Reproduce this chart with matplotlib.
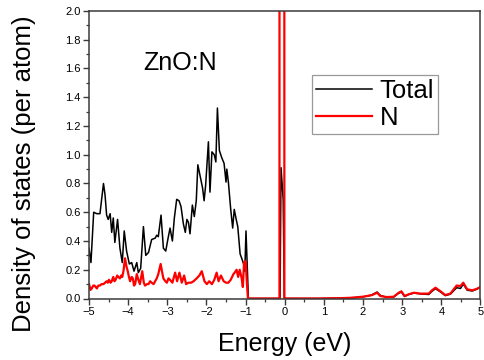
import matplotlib
matplotlib.use("Agg")
import matplotlib.pyplot as plt
from matplotlib.ticker import MultipleLocator

plt.rcParams['font.family'] = ['Liberation Sans', 'DejaVu Sans']

# Total DOS (black)
energy_total = [-5.00, -4.95, -4.88, -4.80, -4.72, -4.63, -4.59, -4.55, -4.51, -4.46,
                -4.42, -4.38, -4.34, -4.27, -4.21, -4.15, -4.10, -4.04, -3.97, -3.91,
                -3.85, -3.78, -3.74, -3.68, -3.61, -3.55, -3.48, -3.40, -3.31, -3.27,
                -3.23, -3.16, -3.10, -3.04, -2.98, -2.93, -2.87, -2.82, -2.76, -2.70,
                -2.65, -2.59, -2.54, -2.50, -2.46, -2.42, -2.36, -2.31, -2.26, -2.22,
                -2.16, -2.10, -2.06, -2.02, -1.95, -1.91, -1.86, -1.80, -1.76, -1.72,
                -1.67, -1.61, -1.55, -1.50, -1.48, -1.44, -1.38, -1.33, -1.29, -1.24,
                -1.20, -1.14, -1.10, -1.05, -1.02, -0.99, -0.96, -0.935, -0.93,
                -0.12, -0.095, -0.04, -0.01, 0.0,
                0.9, 1.5, 1.8, 2.0, 2.2, 2.36, 2.44, 2.6, 2.78, 2.9, 2.98, 3.06, 3.17,
                3.30, 3.47, 3.68, 3.76, 3.85, 3.98, 4.10, 4.23, 4.39, 4.49, 4.56, 4.66,
                4.79, 4.91, 5.00]
dos_total = [0.35, 0.25, 0.60, 0.59, 0.59, 0.80, 0.72, 0.58, 0.55, 0.59,
             0.46, 0.56, 0.39, 0.55, 0.35, 0.25, 0.47, 0.33, 0.24, 0.25,
             0.19, 0.25, 0.18, 0.21, 0.50, 0.30, 0.32, 0.41, 0.42, 0.44,
             0.43, 0.58, 0.35, 0.33, 0.42, 0.49, 0.40, 0.56, 0.69, 0.68,
             0.64, 0.52, 0.46, 0.55, 0.53, 0.45, 0.65, 0.57, 0.68, 0.93,
             0.85, 0.77, 0.68, 0.79, 1.09, 0.74, 1.02, 1.00, 0.95, 1.325,
             1.03, 0.98, 0.94, 0.81, 0.90, 0.81, 0.62, 0.49, 0.62, 0.55,
             0.50, 0.31, 0.28, 0.24, 0.19, 0.47, 0.24, 0.05, 0.0,
             0.0, 0.91, 0.69, 0.0, 0.0,
             0.0, 0.003, 0.006, 0.012, 0.022, 0.045, 0.022, 0.008, 0.01, 0.035, 0.045,
             0.014, 0.028, 0.038, 0.032, 0.028, 0.05, 0.068, 0.045, 0.02, 0.03, 0.075,
             0.07, 0.10, 0.058, 0.052, 0.065, 0.08]

# Partial N DOS (red)
energy_n = [-5.00, -4.96, -4.93, -4.89, -4.86, -4.83, -4.80, -4.76, -4.72, -4.68,
            -4.63, -4.59, -4.55, -4.52, -4.49, -4.45, -4.42, -4.38, -4.35,
            -4.32, -4.28, -4.25, -4.21, -4.18, -4.15, -4.12, -4.08, -4.04, -4.01,
            -3.98, -3.95, -3.91, -3.88, -3.85, -3.82, -3.78,
            -3.74, -3.70, -3.64, -3.60, -3.57, -3.52, -3.48, -3.44, -3.40, -3.35,
            -3.31, -3.27, -3.23, -3.17, -3.13, -3.10,
            -3.05, -3.01, -2.97, -2.93, -2.87, -2.80, -2.75, -2.69, -2.63, -2.57, -2.52, -2.46,
            -2.39, -2.33, -2.25, -2.18, -2.12, -2.05, -1.99, -1.93, -1.86, -1.80,
            -1.74, -1.69, -1.63, -1.56, -1.50, -1.44, -1.38, -1.31, -1.28, -1.23,
            -1.19, -1.15, -1.10, -1.07, -1.04, -1.00, -0.97, -0.945, -0.94,
            -0.135, -0.134, -0.011, -0.01,
            0.9, 1.5, 1.68, 2.02, 2.23, 2.36, 2.44, 2.61, 2.78, 2.91, 2.98, 3.06,
            3.17, 3.30, 3.47, 3.68, 3.76, 3.85, 3.98, 4.10, 4.23, 4.39, 4.49, 4.56,
            4.66, 4.79, 4.91, 5.00]
dos_n = [0.10, 0.06, 0.07, 0.09, 0.09, 0.08, 0.07, 0.09, 0.09, 0.10,
         0.10, 0.11, 0.12, 0.11, 0.13, 0.11, 0.12, 0.15, 0.12,
         0.13, 0.16, 0.15, 0.14, 0.16, 0.15, 0.19, 0.28, 0.22, 0.19,
         0.15, 0.12, 0.15, 0.14, 0.09, 0.10, 0.17,
         0.13, 0.10, 0.19, 0.11, 0.09, 0.10, 0.10, 0.12, 0.11, 0.10,
         0.12, 0.14, 0.17, 0.24, 0.18, 0.14,
         0.12, 0.11, 0.14, 0.13, 0.11, 0.18, 0.12, 0.18, 0.11, 0.16, 0.10, 0.11,
         0.11, 0.12, 0.14, 0.16, 0.19, 0.12, 0.10, 0.12, 0.10, 0.13,
         0.18, 0.12, 0.16, 0.12, 0.11, 0.11, 0.13, 0.17, 0.18, 0.20,
         0.15, 0.20, 0.14, 0.08, 0.25, 0.26, 0.12, 0.02, 0.0,
         0.0, 3.5, 3.5, 0.0,
         0.0, 0.003, 0.005, 0.013, 0.024, 0.04, 0.017, 0.01, 0.012, 0.04, 0.05, 0.017,
         0.03, 0.04, 0.034, 0.034, 0.057, 0.075, 0.05, 0.024, 0.034, 0.09, 0.087, 0.11,
         0.064, 0.057, 0.068, 0.08]

fig = plt.figure(figsize=(4.85, 3.6), dpi=100)
ax = fig.add_axes([89 / 485, (360 - 298.5) / 360, (480.5 - 89) / 485, (298.5 - 11) / 360])

ax.plot(energy_total, dos_total, color='black', lw=1.1, label='Total')
ax.plot(energy_n, dos_n, color='#ff0000', lw=1.6, label='N')

ax.set_xlim(-5, 5)
ax.set_ylim(0, 2.0)
ax.xaxis.set_major_locator(MultipleLocator(1))
ax.xaxis.set_minor_locator(MultipleLocator(0.5))
ax.yaxis.set_minor_locator(MultipleLocator(0.1))
ax.set_yticks([i * 0.2 for i in range(11)])
ax.set_yticklabels([f"{i * 0.2:.1f}" for i in range(11)])

spine_color = '#3a3a3a'
for s in ax.spines.values():
    s.set_color(spine_color)
    s.set_linewidth(1.1)
ax.tick_params(which='major', direction='out', length=4, width=1.0,
               color=spine_color, labelsize=8, pad=2)
ax.tick_params(which='minor', direction='out', length=2.5, width=0.9,
               color=spine_color)
ax.tick_params(top=False, right=False, which='both')

ax.set_xlabel('Energy (eV)', fontsize=18, va='center')
ax.xaxis.set_label_coords(0.5, -0.158)
ax.set_ylabel('Density of states (per atom)', fontsize=18.5, va='center')
ax.yaxis.set_label_coords(-0.165, 0.435)

ax.text(-2.67, 1.64, 'ZnO:N', fontsize=18, ha='center', va='center')

leg = ax.legend(loc='upper left', bbox_to_anchor=(0.569, 0.778), fontsize=18.5,
                frameon=True, fancybox=False, borderpad=0.15, handlelength=2.2,
                handletextpad=0.3, labelspacing=0.12, borderaxespad=0.0)
leg.get_frame().set_edgecolor('#808080')
leg.get_frame().set_linewidth(0.9)

fig.savefig('out.png', dpi=100)
